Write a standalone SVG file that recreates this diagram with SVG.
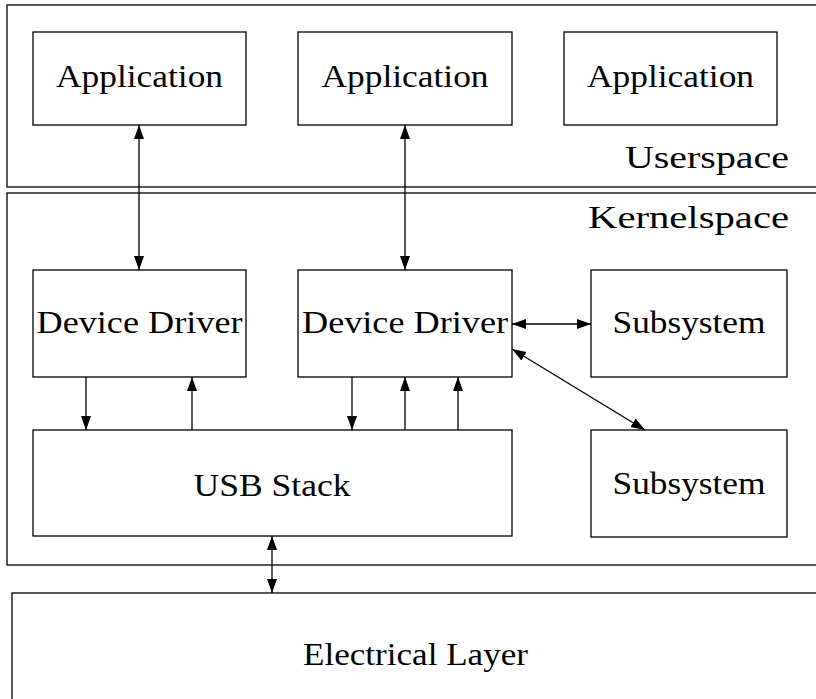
<svg xmlns="http://www.w3.org/2000/svg" width="816" height="699" viewBox="0 0 816 699">
<style>
rect{fill:none;stroke:#000;stroke-width:1.3}
text{font-family:'Liberation Serif','DejaVu Serif',serif;font-size:32px;fill:#000}
.c{text-anchor:middle}
.r{text-anchor:end}
line{stroke:#000;stroke-width:1.3}
</style>
<defs>
<marker id="ah" markerUnits="userSpaceOnUse" markerWidth="16" markerHeight="12" refX="14" refY="5" orient="auto-start-reverse" viewBox="0 0 16 12">
<path d="M0,0 L14,5 L0,10 z" fill="#000"/>
</marker>
</defs>
<rect x="0" y="0" width="816" height="699" style="fill:#fff;stroke:none"/>
<g id="userspace">
<rect x="7" y="5" width="830" height="182"/>
<text class="r" x="789" y="168" textLength="164" lengthAdjust="spacingAndGlyphs">Userspace</text>
</g>
<g id="kernelspace">
<rect x="7" y="193" width="830" height="372"/>
<text class="r" x="789" y="228" textLength="201" lengthAdjust="spacingAndGlyphs">Kernelspace</text>
</g>
<g id="electrical">
<rect x="12" y="593" width="830" height="130"/>
<text class="c" x="415.5" y="665" textLength="225" lengthAdjust="spacingAndGlyphs">Electrical Layer</text>
</g>
<g id="app1">
<rect x="33" y="32" width="213" height="93"/>
<text class="c" x="139.5" y="87" textLength="167" lengthAdjust="spacingAndGlyphs">Application</text>
</g>
<g id="app2">
<rect x="298" y="32" width="214" height="93"/>
<text class="c" x="405" y="87" textLength="167" lengthAdjust="spacingAndGlyphs">Application</text>
</g>
<g id="app3">
<rect x="564" y="32" width="213" height="93"/>
<text class="c" x="670.5" y="87" textLength="167" lengthAdjust="spacingAndGlyphs">Application</text>
</g>
<g id="driver1">
<rect x="33" y="270" width="213" height="107"/>
<text class="c" x="139.5" y="333" textLength="206" lengthAdjust="spacingAndGlyphs">Device Driver</text>
</g>
<g id="driver2">
<rect x="298" y="270" width="214" height="107"/>
<text class="c" x="405" y="333" textLength="206" lengthAdjust="spacingAndGlyphs">Device Driver</text>
</g>
<g id="subsystem1">
<rect x="591" y="270" width="196" height="107"/>
<text class="c" x="689" y="333" textLength="153" lengthAdjust="spacingAndGlyphs">Subsystem</text>
</g>
<g id="subsystem2">
<rect x="591" y="430" width="196" height="107"/>
<text class="c" x="689" y="494" textLength="153" lengthAdjust="spacingAndGlyphs">Subsystem</text>
</g>
<g id="usbstack">
<rect x="33" y="430" width="479" height="106"/>
<text class="c" x="272" y="496" textLength="157" lengthAdjust="spacingAndGlyphs">USB Stack</text>
</g>
<g id="connectors">
<line x1="139" y1="125" x2="139" y2="270" marker-start="url(#ah)" marker-end="url(#ah)"/>
<line x1="405" y1="125" x2="405" y2="270" marker-start="url(#ah)" marker-end="url(#ah)"/>
<line x1="86" y1="377" x2="86" y2="430" marker-end="url(#ah)"/>
<line x1="192" y1="430" x2="192" y2="377" marker-end="url(#ah)"/>
<line x1="352" y1="377" x2="352" y2="430" marker-end="url(#ah)"/>
<line x1="405" y1="430" x2="405" y2="377" marker-end="url(#ah)"/>
<line x1="458" y1="430" x2="458" y2="377" marker-end="url(#ah)"/>
<line x1="512" y1="324" x2="591" y2="324" marker-start="url(#ah)" marker-end="url(#ah)"/>
<line x1="512" y1="349" x2="645" y2="430" marker-start="url(#ah)" marker-end="url(#ah)"/>
<line x1="272" y1="536" x2="272" y2="593" marker-start="url(#ah)" marker-end="url(#ah)"/>
</g>
</svg>
